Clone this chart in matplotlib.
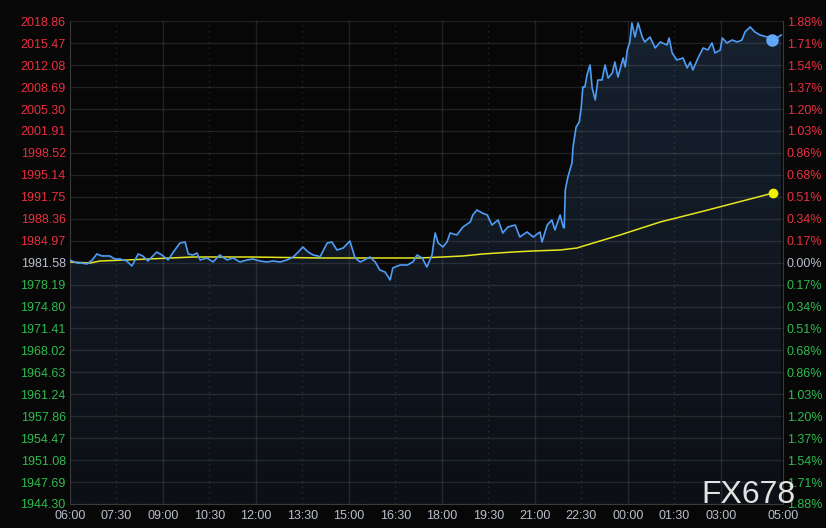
import numpy as np
import matplotlib.pyplot as plt
from matplotlib.patches import Polygon
from matplotlib.colors import LinearSegmentedColormap

# минуты от 06:00 и цена (синяя линия)
t_min = [0, 4, 14, 23, 33, 43, 52, 62, 77, 87, 97, 110, 120, 132, 141, 151, 168, 178,
         190, 203, 213, 223, 229, 238, 246, 252, 265, 277, 290, 304, 316, 329, 343, 354,
         368, 381, 393, 407, 420, 432, 442, 451, 461, 471, 480, 484, 498, 507, 517, 529,
         542, 552, 562, 581, 591, 600, 610, 620, 625, 639, 653, 664, 672, 682, 691, 701,
         707, 713, 722, 730, 736, 749, 761, 775, 780, 788, 798, 808, 817, 829, 838, 848,
         862, 871, 885, 897, 910, 914, 924, 933, 939, 949, 955, 957, 959, 964, 972, 974,
         980, 986, 990, 993, 997, 1001, 1007, 1011, 1017, 1022, 1030, 1036, 1042, 1050,
         1055, 1061, 1071, 1075, 1079, 1084, 1088, 1094, 1100, 1108, 1113, 1123, 1133,
         1143, 1156, 1160, 1166, 1175, 1187, 1195, 1201, 1206, 1216, 1226, 1235, 1243,
         1249, 1259, 1263, 1272, 1282, 1292, 1301, 1307, 1317, 1326, 1336, 1350, 1360,
         1371, 1377]
price = [1981.99, 1981.83, 1981.52, 1981.52, 1981.37, 1981.99, 1982.92, 1982.61, 1982.61,
         1982.14, 1982.14, 1981.83, 1981.06, 1982.92, 1982.61, 1981.83, 1983.22, 1982.76,
         1981.99, 1983.53, 1984.61, 1984.77, 1982.92, 1982.76, 1983.07, 1981.99, 1982.30,
         1981.68, 1982.76, 1981.99, 1982.30, 1981.68, 1981.99, 1982.14, 1981.83, 1981.68,
         1981.83, 1981.68, 1981.99, 1982.45, 1983.22, 1984.00, 1983.22, 1982.76, 1982.61,
         1982.45, 1984.61, 1984.77, 1983.53, 1983.84, 1984.92, 1982.30, 1981.68, 1982.45,
         1981.68, 1980.44, 1980.13, 1978.90, 1980.75, 1981.21, 1981.21, 1981.68, 1982.76,
         1982.30, 1980.91, 1982.76, 1986.16, 1984.61, 1984.00, 1984.77, 1986.16, 1985.85,
         1987.09, 1987.86, 1988.94, 1989.71, 1989.25, 1988.94, 1987.39, 1988.17, 1986.16,
         1987.09, 1987.39, 1985.54, 1986.31, 1985.54, 1986.31, 1984.77, 1987.39, 1988.17,
         1986.63, 1988.94, 1987.09, 1986.93, 1992.80, 1994.81, 1996.97, 1999.44, 2002.53,
         2003.30, 2005.62, 2008.71, 2008.71, 2010.57, 2012.11, 2008.56, 2006.70, 2009.79,
         2009.79, 2012.11, 2010.10, 2010.87, 2012.57, 2010.26, 2013.19, 2011.80, 2014.43,
         2015.66, 2018.60, 2016.43, 2018.60, 2016.43, 2015.66, 2016.43, 2014.74, 2015.66,
         2015.20, 2016.28, 2013.96, 2012.88, 2013.19, 2011.65, 2012.57, 2011.34, 2013.19,
         2014.74, 2014.43, 2015.51, 2013.96, 2014.43, 2016.28, 2015.51, 2015.97, 2015.66,
         2015.97, 2017.21, 2017.98, 2017.21, 2016.74, 2016.43, 2015.97, 2016.43, 2016.74]

# средняя цена (жёлтая линия)
avg_t = [0, 39, 58, 110, 238, 349, 484, 678, 722, 761, 800, 858, 897, 949, 982, 988,
         1065, 1143, 1220, 1362]
avg_price = [1981.68, 1981.52, 1981.83, 1981.99, 1982.45, 1982.45, 1982.30, 1982.30,
             1982.45, 1982.61, 1982.92, 1983.22, 1983.38, 1983.53, 1983.84, 1984.00,
             1985.85, 1987.86, 1989.40, 1992.34]

last_t = 1360  # синяя точка

base_price = 1981.58
y_min, y_max = 1944.30, 2018.86
price_labels = ['1944.30', '1947.69', '1951.08', '1954.47', '1957.86', '1961.24',
                '1964.63', '1968.02', '1971.41', '1974.80', '1978.19', '1981.58',
                '1984.97', '1988.36', '1991.75', '1995.14', '1998.52', '2001.91',
                '2005.30', '2008.69', '2012.08', '2015.47', '2018.86']
pct_labels = ['1.88%', '1.71%', '1.54%', '1.37%', '1.20%', '1.03%', '0.86%', '0.68%',
              '0.51%', '0.34%', '0.17%', '0.00%', '0.17%', '0.34%', '0.51%', '0.68%',
              '0.86%', '1.03%', '1.20%', '1.37%', '1.54%', '1.71%', '1.88%']
x_ticks = [0, 90, 180, 270, 360, 450, 540, 630, 720, 810, 900, 990, 1080, 1170, 1260, 1380]
x_labels = ['06:00', '07:30', '09:00', '10:30', '12:00', '13:30', '15:00', '16:30',
            '18:00', '19:30', '21:00', '22:30', '00:00', '01:30', '03:00', '05:00']

BG = '#070707'
RED = '#e8303f'
GREEN = '#2dbb4e'
NEUTRAL = '#b8bfcc'


def main():
    plt.rcParams['font.family'] = ['Liberation Sans', 'DejaVu Sans']
    fig = plt.figure(figsize=(8.26, 5.28), dpi=100, facecolor=BG)
    ax = fig.add_axes([0.0847, 0.0455, 0.8629, 0.9142], facecolor=BG)

    ax.set_xlim(0, 1380)
    ax.set_ylim(y_min, y_max)

    # градиентная заливка под ценой
    verts = [(t_min[0], y_min)] + list(zip(t_min, price)) + [(t_min[-1], y_min)]
    poly = Polygon(verts, closed=True, facecolor='none', edgecolor='none')
    ax.add_patch(poly)
    grad = np.linspace(1, 0, 256).reshape(-1, 1)
    cmap = LinearSegmentedColormap.from_list('f', ['#0c0f15', '#16212f'])
    im = ax.imshow(grad, cmap=cmap, aspect='auto', extent=[0, 1380, y_min, y_max],
                   origin='upper', zorder=1, interpolation='bilinear')
    im.set_clip_path(poly)

    # сетка
    yt = np.linspace(y_min, y_max, 23)
    for v in yt:
        ax.axhline(v, color='white', alpha=0.1, lw=1, zorder=2)
    for t in x_ticks[1:-1]:
        if t % 180 == 0:
            ax.axvline(t, color='white', alpha=0.1, lw=1, zorder=2)
        else:
            ax.axvline(t, color='white', alpha=0.12, lw=1, ls=(0, (1, 3)), zorder=2)

    ax.plot(t_min, price, color='#4f9cf5', lw=1.2, zorder=4)
    ax.plot(avg_t, avg_price, color='#e6e61e', lw=1.1, zorder=3)
    i = t_min.index(last_t)
    ax.plot(t_min[i], price[i], 'o', color='#62a8f8', ms=8, zorder=5)
    ax.plot(avg_t[-1], avg_price[-1], 'o', color='#f2f200', ms=6, zorder=5)

    for s in ax.spines.values():
        s.set_color('#3a3a3a')
    ax.spines['top'].set_visible(False)

    # левая ось: цены
    colors = [GREEN] * 11 + [NEUTRAL] + [RED] * 11
    ax.set_yticks(yt)
    ax.set_yticklabels(price_labels)
    ax.tick_params(axis='y', length=0, pad=3, labelsize=9)
    for c, lab in zip(colors, ax.get_yticklabels()):
        lab.set_color(c)

    # правая ось: проценты (сверху вниз)
    ax2 = ax.twinx()
    ax2.set_ylim(y_min, y_max)
    ax2.set_yticks(yt)
    ax2.set_yticklabels(pct_labels[::-1])
    ax2.tick_params(axis='y', length=0, pad=3, labelsize=9)
    for c, lab in zip(colors, ax2.get_yticklabels()):
        lab.set_color(c)
    for s in ax2.spines.values():
        s.set_visible(False)

    ax.set_xticks(x_ticks)
    ax.set_xticklabels(x_labels)
    ax.tick_params(axis='x', length=0, pad=4, labelsize=9, colors=NEUTRAL)

    fig.text(795 / 826, 25 / 528, 'FX678', color='#e2e2e2', fontsize=23,
             ha='right', va='baseline', zorder=10)

    fig.savefig('out.png', dpi=100, facecolor=BG)


if __name__ == "__main__":
    main()
